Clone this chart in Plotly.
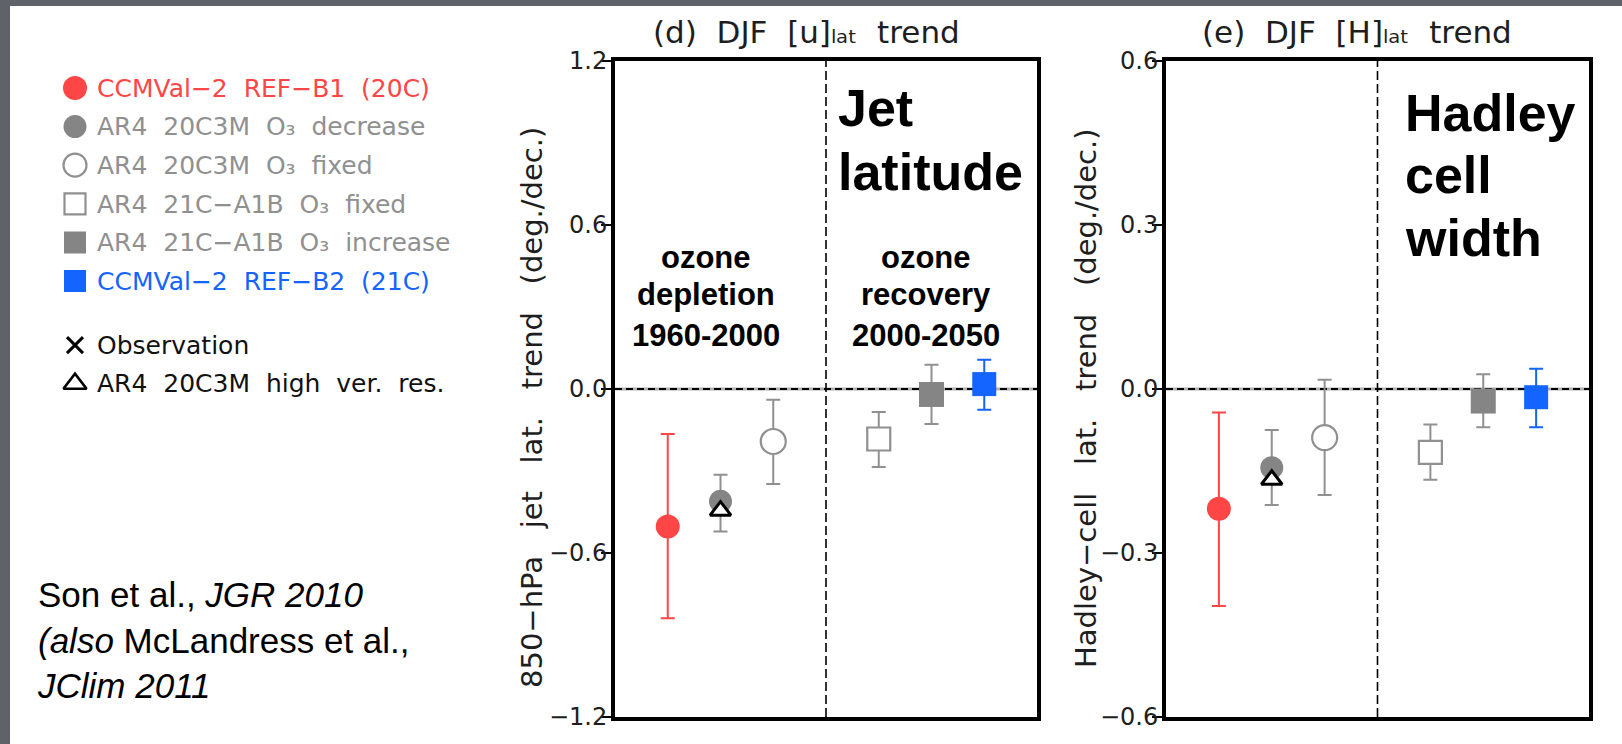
import plotly.graph_objects as go

W, H = 1622, 744


def px(x):
    return x / W


def py(y):
    return 1 - y / H


# ---------------- data ----------------
series_labels = [
    "CCMVal−2  REF−B1  (20C)",
    "AR4  20C3M  O₃  decrease",
    "AR4  20C3M  O₃  fixed",
    "AR4  21C−A1B  O₃  fixed",
    "AR4  21C−A1B  O₃  increase",
    "CCMVal−2  REF−B2  (21C)",
]
extra_labels = ["Observation", "AR4  20C3M  high  ver.  res."]
slot = [1, 2, 3, 5, 6, 7]          # category slots (20C | 21C)
divider_slot = 4

jet_center = [-0.503, -0.411, -0.192, -0.183, -0.020, 0.018]
jet_hi = [-0.165, -0.314, -0.039, -0.084, 0.089, 0.107]
jet_lo = [-0.839, -0.521, -0.348, -0.285, -0.128, -0.076]
jet_hires = -0.445

had_center = [-0.219, -0.144, -0.089, -0.116, -0.022, -0.015]
had_hi = [-0.043, -0.075, 0.017, -0.065, 0.027, 0.037]
had_lo = [-0.397, -0.212, -0.194, -0.166, -0.070, -0.070]
had_hires = -0.166

jet_ticks = [-1.2, -0.6, 0.0, 0.6, 1.2]
had_ticks = [-0.6, -0.3, 0.0, 0.3, 0.6]

# ---------------- styles ----------------
RED = "#ff4646"
GRAYF = "#858585"
GRAYL = "#909090"
BLUE = "#1464ff"
TXT = "#1e1e1e"
NCAR = "DejaVu Sans"
ARIAL = "Liberation Sans, Arial"

styles = [
    dict(symbol="circle", color=RED, line=dict(color=RED, width=0), size=24, err=RED),
    dict(symbol="circle", color=GRAYF, line=dict(color=GRAYF, width=0), size=23, err=GRAYL),
    dict(symbol="circle", color="white", line=dict(color=GRAYL, width=2.2), size=25, err=GRAYL),
    dict(symbol="square", color="white", line=dict(color=GRAYL, width=2.2), size=23, err=GRAYL),
    dict(symbol="square", color=GRAYF, line=dict(color=GRAYF, width=0), size=25, err=GRAYL),
    dict(symbol="square", color=BLUE, line=dict(color=BLUE, width=0), size=24, err=BLUE),
]
text_colors = [RED, GRAYL, GRAYL, GRAYL, GRAYL, BLUE, "#111111", "#111111"]

fig = go.Figure()

panels = [
    ("x", "y", jet_center, jet_hi, jet_lo, jet_hires),
    ("x2", "y2", had_center, had_hi, had_lo, had_hires),
]
for xa, ya, cen, hi, lo, hires in panels:
    for i in range(len(slot)):
        st = styles[i]
        fig.add_trace(go.Scatter(
            x=[slot[i]], y=[cen[i]], xaxis=xa, yaxis=ya, mode="markers",
            showlegend=False, hoverinfo="skip",
            marker=dict(symbol=st["symbol"], color=st["color"], size=st["size"],
                        line=st["line"], opacity=1),
            error_y=dict(type="data", symmetric=False,
                         array=[hi[i] - cen[i]], arrayminus=[cen[i] - lo[i]],
                         color=st["err"], thickness=2, width=7),
        ))
    fig.add_trace(go.Scatter(
        x=[slot[1]], y=[hires], xaxis=xa, yaxis=ya, mode="markers",
        showlegend=False, hoverinfo="skip",
        marker=dict(symbol="triangle-up", color="white", size=18, opacity=1,
                    line=dict(color="black", width=3)),
    ))

# ---------------- key (drawn on a hidden helper axis) ----------------
key_labels = series_labels + extra_labels
key_rows = [0, 1, 2, 3, 4, 5, 6.66, 7.66]
key_symbols = [s["symbol"] for s in styles] + ["x-thin", "triangle-up-open"]
key_fill = [s["color"] for s in styles] + ["black", "black"]
key_line_c = [s["line"]["color"] for s in styles] + ["black", "black"]
key_line_w = [0, 0, 2.2, 2.2, 0, 0, 3, 2.6]
key_size = [24, 23, 23, 21, 22, 22, 16, 20]
fig.add_trace(go.Scatter(
    x=[0] * len(key_rows), y=key_rows, xaxis="x3", yaxis="y3", mode="markers",
    showlegend=False, hoverinfo="skip",
    marker=dict(symbol=key_symbols, color=key_fill, size=key_size, opacity=1,
                line=dict(color=key_line_c, width=key_line_w)),
))

key_ticktext = [f'<span style="color:{c}">{t}</span>' for t, c in zip(key_labels, text_colors)]

axis_frame = dict(showline=True, mirror=True, linewidth=4, linecolor="black",
                  showgrid=False, zeroline=False, automargin=False)
ytick_common = dict(ticks="outside", ticklen=10, tickwidth=1.5, tickcolor="black",
                    tickfont=dict(family=NCAR, size=24, color=TXT), tickformat=".1f",
                    ticklabelstandoff=-11)

row_px = 38.6
top_px = 88 - 0.5 * row_px
bot_px = 88 + (7.66 + 0.5) * row_px

fig.update_layout(
    template="none",
    autosize=False,
    width=W, height=H, margin=dict(l=0, r=0, t=0, b=0, pad=0, autoexpand=False),
    paper_bgcolor="white", plot_bgcolor="white",
    xaxis=dict(domain=[px(615), px(1037)], range=[0, 8], showticklabels=False, ticks="",
               anchor="y", **axis_frame),
    yaxis=dict(domain=[py(717), py(61)], range=[-1.2, 1.2], tickvals=jet_ticks,
               anchor="x", **axis_frame, **ytick_common),
    xaxis2=dict(domain=[px(1166), px(1589)], range=[0, 8], showticklabels=False, ticks="",
                anchor="y2", **axis_frame),
    yaxis2=dict(domain=[py(717), py(61)], range=[-0.6, 0.6], tickvals=had_ticks,
                anchor="x2", **axis_frame, **ytick_common),
    xaxis3=dict(domain=[px(62), px(88)], range=[-1, 1], visible=False, anchor="y3",
                automargin=False),
    yaxis3=dict(domain=[py(bot_px), py(top_px)], range=[7.66 + 0.5, -0.5], anchor="x3",
                side="right", tickvals=key_rows, ticktext=key_ticktext, ticks="",
                showline=False, showgrid=False, zeroline=False, ticklabelstandoff=8,
                automargin=False, tickfont=dict(family=NCAR, size=25, color="#111")),
)

# ---------------- shapes ----------------
shapes = []
for xr, yr, lo_, hi_ in [("x", "y", -1.2, 1.2), ("x2", "y2", -0.6, 0.6)]:
    shapes.append(dict(type="line", xref=xr, yref=yr, x0=0, x1=8, y0=0, y1=0,
                       line=dict(color="#b0b0b0", width=3), layer="below"))
    shapes.append(dict(type="line", xref=xr, yref=yr, x0=0, x1=8, y0=0, y1=0,
                       line=dict(color="black", width=2, dash="7px,4px"), layer="below"))
    shapes.append(dict(type="line", xref=xr, yref=yr, x0=divider_slot, x1=divider_slot,
                       y0=lo_, y1=hi_, line=dict(color="black", width=1.6, dash="9px,4px"),
                       layer="below"))
# slide border
shapes.append(dict(type="rect", xref="paper", yref="paper", x0=0, x1=px(10), y0=0, y1=1,
                   fillcolor="#5f6269", line=dict(width=0), layer="above"))
shapes.append(dict(type="rect", xref="paper", yref="paper", x0=0, x1=1, y0=py(6), y1=1,
                   fillcolor="#5f6269", line=dict(width=0), layer="above"))
fig.update_layout(shapes=shapes)

# ---------------- annotations ----------------
ann = []


def add_text(text, x, y, size, family=NCAR, color=TXT, xanchor="center", angle=0, align="center"):
    ann.append(dict(text=text, x=px(x), y=py(y), xref="paper", yref="paper",
                    xanchor=xanchor, yanchor="middle", showarrow=False, textangle=angle,
                    align=align, font=dict(family=family, size=size, color=color)))


NB = "\u00a0"
add_text(f"(d){NB*2}DJF{NB*2}[u]ₗₐₜ{NB*2}trend", 806, 32, 31)
add_text(f"(e){NB*2}DJF{NB*2}[H]ₗₐₜ{NB*2}trend", 1357, 32, 31)

add_text(f"850−hPa{NB*3}jet{NB*3}lat.{NB*3}trend{NB*3}(deg./dec.)", 532, 408, 29, angle=-90)
add_text(f"Hadley−cell{NB*3}lat.{NB*3}trend{NB*3}(deg./dec.)", 1086, 398, 29, angle=-90)


def baseline_center(b, size):
    return b - 0.38 * size


for word, b in [("Jet", 128), ("latitude", 192)]:
    add_text(f"<b>{word}</b>", 836, baseline_center(b, 52), 52, family=ARIAL,
             color="black", xanchor="left")
for word, b in [("Hadley", 133), ("cell", 195), ("width", 258)]:
    add_text(f"<b>{word}</b>", 1403, baseline_center(b, 52), 52, family=ARIAL,
             color="black", xanchor="left")
for (w1, w2), b in zip([("ozone", "ozone"), ("depletion", "recovery"),
                        ("1960-2000", "2000-2050")], [269, 306, 347]):
    add_text(f"<b>{w1}</b>", 706, baseline_center(b, 31), 31, family=ARIAL, color="black")
    add_text(f"<b>{w2}</b>", 926, baseline_center(b, 31), 31, family=ARIAL, color="black")

add_text("Son et al., <i>JGR 2010</i><br><i>(also</i> McLandress et al.,<br><i>JClim 2011</i>",
         35, 640, 35, family=ARIAL, color="black", xanchor="left", align="left")

fig.update_layout(annotations=ann)

fig.write_html("out.html")
